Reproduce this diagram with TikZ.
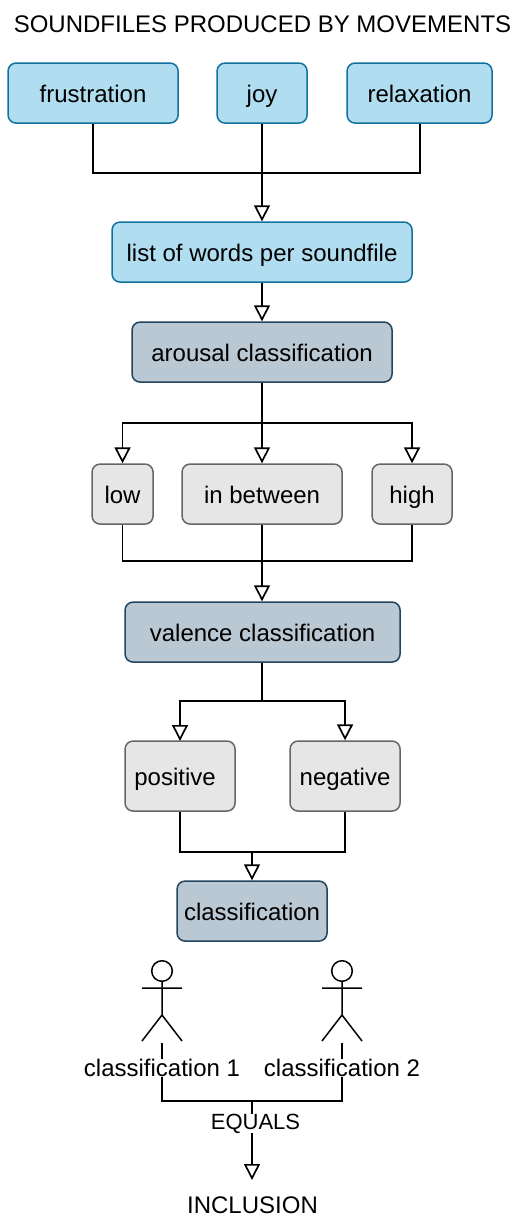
\documentclass[tikz,border=0pt]{standalone}
\usepackage{fontspec}
\setmainfont{Liberation Sans}
\usetikzlibrary{arrows.meta}
\definecolor{bluefill}{HTML}{B1DDF0}
\definecolor{blueline}{HTML}{10739E}
\definecolor{darkfill}{HTML}{BAC8D3}
\definecolor{darkline}{HTML}{23445D}
\definecolor{greyfill}{HTML}{E6E6E6}
\definecolor{greyline}{HTML}{666666}
\tikzset{
  x=1pt,y=-1pt,
  base/.style={rounded corners=8pt,line width=1.5pt,minimum height=60pt,inner sep=0pt,font=\fontsize{24}{28}\selectfont,text=black,anchor=north west,text depth=0pt,text height=19pt,xshift=-0.7pt,yshift=0.7pt},
  bluebox/.style={base,draw=blueline,fill=bluefill},
  darkbox/.style={base,draw=darkline,fill=darkfill},
  greybox/.style={base,draw=greyline,fill=greyfill},
  lbl/.style={font=\fontsize{24}{28}\selectfont,inner sep=0pt,text=black},
  wire/.style={line width=1.6pt,black},
  trunk/.style={line width=2.4pt},
  arr/.style={wire,-{Triangle[open,fill=white,length=16pt,width=16pt,line width=1.7pt]}},
  actorline/.style={line width=1.5pt,black}
}
\newcommand{\actor}[1]{%
  \draw[actorline,fill=white] (#1,971) circle[radius=10.3];
  \draw[actorline] (#1,981.5) -- (#1,1015) (#1-20,988) -- (#1+20,988) (#1-20,1041) -- (#1,1015) -- (#1+20,1041);
}
\begin{document}
\begin{tikzpicture}
\useasboundingbox (0,0) rectangle (526,1228);
\node[lbl] (title) at (262.5,24) {SOUNDFILES PRODUCED BY MOVEMENTS};
\node[bluebox,minimum width=170pt] (fru) at (8,63) {frustration};
\node[bluebox,minimum width=90pt] (joy) at (217,63) {joy};
\node[bluebox,minimum width=145pt] (rel) at (347,63) {relaxation};
\node[bluebox,minimum width=300pt] (list) at (112,222) {list of words per soundfile};
\node[darkbox,minimum width=260pt] (aro) at (132,322) {arousal classification};
\node[greybox,minimum width=61pt] (low) at (92,464) {low};
\node[greybox,minimum width=160pt] (btw) at (182,464) {in between};
\node[greybox,minimum width=80pt] (high) at (372,464) {high};
\node[darkbox,minimum width=275pt] (val) at (125,602) {valence classification};
\node[greybox,minimum width=110pt,minimum height=70pt] (pos) at (125,741) {positive\rule{10pt}{0pt}};
\node[greybox,minimum width=110pt,minimum height=70pt] (neg) at (290,741) {negative};
\node[darkbox,minimum width=150pt] (cls) at (177,881) {classification};
\node[lbl] (c1) at (162,1068) {classification 1};
\node[lbl] (c2) at (342,1068) {classification 2};
\node[lbl,font=\fontsize{22}{26}\selectfont] (eq) at (255.5,1123.5) {EQUALS};
\node[lbl] (inc) at (252.5,1205) {INCLUSION};
\coordinate (m1) at (262,173);
\coordinate (m2) at (262,423);
\coordinate (m3) at (262,561);
\coordinate (m4) at (262,701);
\coordinate (m5) at (252,852);
\coordinate (m6) at (252,1101);
\coordinate (t6) at (252,1180);
\coordinate (rx) at (420,173);
\coordinate (px) at (180,741);
\actor{162}
\actor{342}
\draw[wire] (fru.south) |- (m1);
\draw[wire] (rel.south -| rx) -- (rx) -- (m1);
\draw[wire] (joy.south -| m1) -- (m1);
\draw[arr,trunk] (m1) -- (list.north -| m1);
\draw[arr] (list.south -| m1) -- (aro.north -| m1);
\draw[wire,trunk] (aro.south -| m2) -- (m2);
\draw[arr] (m2) -| (low.north);
\draw[arr] (m2) -- (btw.north -| m2);
\draw[arr] (m2) -| (high.north);
\draw[wire] (low.south) |- (m3);
\draw[wire] (high.south) |- (m3);
\draw[wire] (btw.south -| m3) -- (m3);
\draw[arr,trunk] (m3) -- (val.north -| m3);
\draw[wire,trunk] (val.south -| m4) -- (m4);
\draw[arr] (m4) -| (px);
\draw[arr] (m4) -| (neg.north);
\draw[wire] (pos.south -| px) |- (m5);
\draw[wire] (neg.south) |- (m5);
\draw[arr] (m5) -- (cls.north -| m5);
\draw[wire] (162,1043) -- (c1.north -| 162,0);
\draw[wire] (342,1043) -- (c2.north -| 342,0);
\draw[wire] (c1.south) |- (m6);
\draw[wire] (c2.south) |- (m6);
\draw[wire] (m6) -- (eq.north -| m6);
\draw[arr,trunk] (eq.south -| m6) -- (t6);
\end{tikzpicture}
\end{document}
